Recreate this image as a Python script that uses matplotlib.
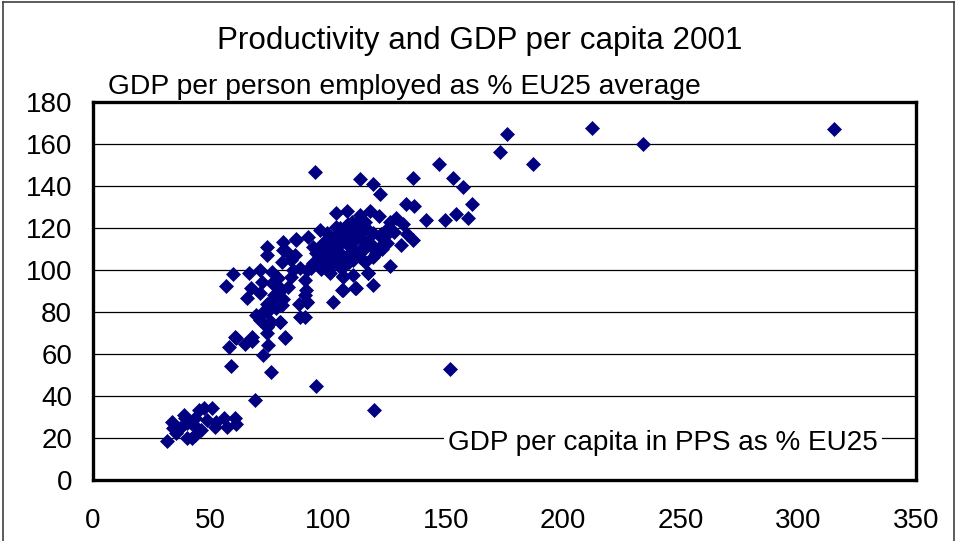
import matplotlib
matplotlib.use("Agg")
import matplotlib.pyplot as plt
from matplotlib.lines import Line2D

plt.rcParams['font.family'] = ['Liberation Sans', 'DejaVu Sans']

title = "Productivity and GDP per capita 2001"
ylabel = "GDP per person employed as % EU25 average"
xlabel = "GDP per capita in PPS as % EU25"
x_ticks = [0, 50, 100, 150, 200, 250, 300, 350]
y_ticks = [0, 20, 40, 60, 80, 100, 120, 140, 160, 180]

# GDP per capita (PPS, % EU25)
gdp_pc = [
    315, 234, 212, 176, 173, 187, 147, 153, 157.5, 161, 159.5, 154.5, 149.5, 141.5,
    152, 119.5, 95, 94.5, 113.5, 119, 122, 136, 133, 136.5, 121.5, 113.5, 108, 103.5,
    129, 126.5, 132, 136, 133.5, 126.5, 117, 119, 106.5, 106, 112, 102,
    124.5, 117, 116.5, 122, 119, 113.5, 117, 111.5, 106.5, 107, 105, 103.5, 108,
    103.5, 99.5, 98, 96.5, 93.5, 91, 93.5, 91.5, 86.5, 86, 81, 80.5, 84, 90, 90.5,
    91, 87.5, 90, 74, 74, 59.5, 56.5, 66.5, 71, 76, 72, 67, 65.5, 71, 79, 80.5,
    74, 69.5, 74, 79.5, 75.5, 74, 99.5, 101, 102, 96.5, 110.5, 113.5, 109.5, 108,
    100.5, 110.5, 113.5, 119, 122, 82.5, 84, 81, 86.5, 91, 88, 90, 106.5, 110.5,
    60.5, 67.5, 81.5, 58.5, 75.5, 69, 58, 61, 64.5, 67.5, 74.5, 72.5, 74, 81.5,
    71, 79.5, 31.5, 33.5, 38.5, 40, 42, 35.5, 37, 41.5, 43.5, 45, 47, 50.5, 46,
    48.5, 52, 55.5, 57, 60.5, 61, 44, 40, 39, 34, 43.5, 52.5,
    98, 100.5, 104, 95.5, 97, 112, 115, 118, 120.5, 123, 115.5, 105, 108.5, 111,
    114.5, 117.5, 121, 125, 128, 131, 102, 104.5, 107, 109.5, 98.5, 101, 95, 92.5,
    88, 85, 110, 115.5, 126, 118, 76.5, 78, 72.5,
    96, 99, 102.5, 105.5, 108.5, 111.5, 114, 116.5, 119.5, 122.5, 100, 103, 106,
    109, 112.5, 96.5, 99.5, 104, 107.5, 110, 77, 79, 81, 76, 78.5, 83,
]
# GDP per person employed (% EU25)
gdp_pe = [
    167, 160, 167.5, 165, 156, 150.5, 150.5, 143.7, 139.3, 131.4, 124.6, 126.5, 124, 123.8,
    53, 33.3, 45, 146.5, 143.5, 141, 136, 143.7, 131.4, 130.5, 125.7, 126.2, 128, 127,
    124.6, 123, 122, 114.3, 117, 102, 98.5, 93, 97, 90.5, 91.3, 85,
    119, 119, 112.7, 111, 106.3, 106.3, 98.4, 91.3, 96.8, 103.2, 108, 112.7, 117.5,
    120.6, 117.5, 112.7, 108, 103.2, 100, 111, 115.9, 114.3, 107, 109.5, 104, 96.8, 95.2, 90.5,
    85, 84, 77.8, 110.8, 107, 98, 92.4, 98.7, 100, 99.2, 94.4, 91.3, 86.5, 89, 89.7, 83.3,
    84, 78.6, 80.2, 75.4, 75.4, 73, 103.2, 108, 103.2, 119, 119, 115.9, 111, 106.3,
    112.7, 104.8, 109.5, 117.5, 116, 108.7, 104.8, 113.5, 115, 84.9, 77.8, 88, 90.5, 97.6,
    68.2, 68.2, 68.2, 54.3, 51.6, 38, 63.2, 67.5, 65, 66.3, 64.3, 59.5, 70.2, 67.5,
    76.2, 75.4, 18.7, 27.8, 31, 19.8, 19.8, 22.2, 24.6, 27, 29.4, 33.3, 34.1, 34.1, 23.8,
    28.6, 25.4, 29.4, 25.1, 29.4, 26.7, 25.4, 27, 29.4, 24.6, 21.4, 27.8,
    110, 113, 116, 105, 100.5, 122, 110, 112, 108, 110, 104, 120, 122, 114,
    109, 113, 110, 113, 118, 112, 115, 102, 105, 108, 105, 98.5, 108, 101,
    101, 100, 121, 123, 118, 128, 86, 82, 80,
    107, 109, 111, 113, 115, 117, 118, 113, 111, 117, 104, 106, 101,
    104, 107, 102, 112, 117, 121, 123, 88, 92, 86, 94, 96, 92,
]

fig = plt.figure(figsize=(9.56, 5.41), dpi=100)
ax = fig.add_axes([93 / 956, 1 - 480 / 541, (916 - 93) / 956, (480 - 102) / 541])

ax.plot(gdp_pc, gdp_pe, linestyle='none', marker='D', markersize=7.2,
        color='#000080', markeredgecolor='#000080', markeredgewidth=0.5,
        zorder=3, clip_on=False)

ax.set_xlim(0, 350)
ax.set_ylim(0, 180)
ax.set_xticks(x_ticks)
ax.set_yticks(y_ticks)
ax.tick_params(axis='both', length=0, labelsize=20, colors='black')
ax.tick_params(axis='y', pad=15)
ax.tick_params(axis='x', pad=20)
ax.yaxis.grid(True, color='black', linewidth=0.9)
ax.set_axisbelow(True)
for s in ax.spines.values():
    s.set_linewidth(2.4)
    s.set_color('black')

fig.text(480 / 956, 1 - 41 / 541, title, ha='center', va='center', fontsize=22.6)
fig.text(108 / 956, 1 - 87 / 541, ylabel, ha='left', va='center', fontsize=20.3)
ax.text(151, 17.6, xlabel, ha='left', va='center', fontsize=20.1, zorder=4,
        bbox=dict(facecolor='white', edgecolor='none', pad=3))

# outer frame
for (x0, y0, x1, y1) in [(3, 2, 3, 545), (3, 2, 954, 2), (954, 2, 954, 545)]:
    fig.add_artist(Line2D([x0 / 956, x1 / 956], [1 - y0 / 541, 1 - y1 / 541],
                          color='#404040', linewidth=1.2))

fig.savefig("out.png", dpi=100)
